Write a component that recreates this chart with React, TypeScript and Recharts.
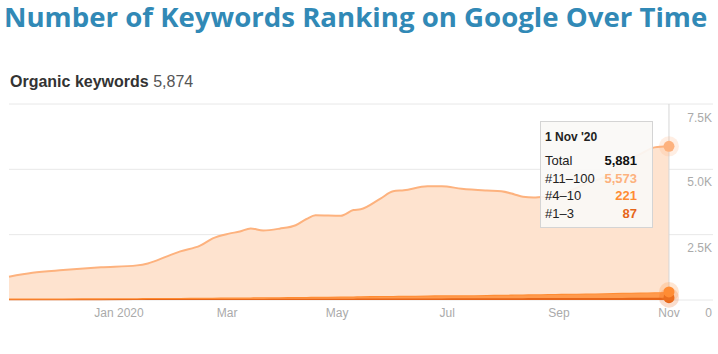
import React, {useLayoutEffect, useRef, useState} from "react";
import {AreaChart, Area, XAxis, YAxis, CartesianGrid, Tooltip, ReferenceLine} from "recharts";

const dates = [
    "2019-11-01", "2019-11-14", "2019-12-01", "2019-12-22", "2020-01-11", "2020-01-17", "2020-01-28",
    "2020-02-04", "2020-02-15", "2020-02-22", "2020-03-02", "2020-03-08", "2020-03-14", "2020-03-21",
    "2020-03-30", "2020-04-08", "2020-04-14", "2020-04-19", "2020-05-03", "2020-05-10", "2020-05-14",
    "2020-05-25", "2020-06-01", "2020-06-07", "2020-06-20", "2020-06-28", "2020-07-09", "2020-07-23",
    "2020-07-31", "2020-08-07", "2020-08-12", "2020-08-18", "2020-08-22", "2020-08-30", "2020-09-06",
    "2020-09-16", "2020-09-26", "2020-10-06", "2020-10-16", "2020-10-24", "2020-11-01"
];
const top1to3 = [
    30, 31, 32, 33, 34, 35, 36, 37, 38, 39, 40, 41, 42, 43, 44, 45, 46, 47, 50, 52, 53,
    55, 57, 58, 60, 62, 64, 66, 68, 70, 71, 72, 73, 74, 75, 77, 79, 81, 83, 85, 87
];
const top4to10 = [
    25, 27, 30, 33, 36, 38, 40, 42, 45, 48, 52, 55, 58, 60, 63, 66, 70, 73, 80, 85, 88,
    95, 100, 103, 110, 115, 120, 128, 132, 136, 140, 145, 148, 155, 162, 172, 182, 195, 205, 213, 221
];
const top11to100 = [
    835, 982, 1083, 1184, 1255, 1327, 1604, 1781, 1997, 2273, 2448, 2524, 2640, 2557, 2623, 2749, 2984,
    3120, 3090, 3303, 3329, 3730, 4003, 4039, 4180, 4173, 4076, 3996, 3960, 3844, 3739, 3703, 3719,
    3731, 3913, 4201, 4439, 4974, 5292, 5542, 5573
];

const monthTicks = ["2020-01-01", "2020-03-01", "2020-05-01", "2020-07-01", "2020-09-01", "2020-11-01"];
const monthLabels = ["Jan 2020", "Mar", "May", "Jul", "Sep", "Nov"];
const yTicks = [0, 2500, 5000, 7500];
const yLabels = ["0", "2.5K", "5.0K", "7.5K"];

const toTime = (d: string) => new Date(d + "T00:00:00Z").getTime();

const data = dates.map((d, i) => ({
    time: toTime(d),
    "#1–3": top1to3[i],
    "#4–10": top4to10[i],
    "#11–100": top11to100[i],
}));

const last = data.length - 1;
const tickTimes = monthTicks.map(toTime);
// x axis runs a bit past the last point so the grid reaches the label column
const xDomain = [data[0].time, Date.UTC(2020, 10, 25, 10)];

const FONT = '"Liberation Sans", Arial, sans-serif';
const C_TOP = "#e6661a";
const C_MID = "#ff8c33";
const C_LOW = "#fdb27e";

const endDot = (color: string) => (props: any) => {
    if (props.index !== last) return <g key={"d" + props.index}/>;
    return (
        <g key={"d" + props.index}>
            <circle cx={props.cx} cy={props.cy} r={10} fill={color} fillOpacity={0.22}/>
            <circle cx={props.cx} cy={props.cy} r={5.5} fill={color}/>
        </g>
    );
};

const renderYTick = (props: any) => (
    <text key={"y" + props.index} x={props.x} y={props.y + 17} textAnchor="end" fill="#aaa" fontSize={12} fontFamily={FONT}>
        {yLabels[yTicks.indexOf(props.payload.value)]}
    </text>
);

const fmtDay = (t: number) => {
    const d = new Date(t);
    const m = ["Jan", "Feb", "Mar", "Apr", "May", "Jun", "Jul", "Aug", "Sep", "Oct", "Nov", "Dec"][d.getUTCMonth()];
    return `${d.getUTCDate()} ${m} '${String(d.getUTCFullYear()).slice(2)}`;
};

const TipBox = () => {
    const p = data[last];
    const total = p["#1–3"] + p["#4–10"] + p["#11–100"];
    const rows: [string, number, string][] = [
        ["Total", total, "#111"],
        ["#11–100", p["#11–100"], C_LOW],
        ["#4–10", p["#4–10"], C_MID],
        ["#1–3", p["#1–3"], C_TOP],
    ];
    return (
        <div style={{
            width: 113, height: 107, boxSizing: "border-box", border: "1px solid #d4d4d4",
            background: "rgba(250,248,246,0.92)", padding: "8px 15px 0 4px", fontFamily: FONT, color: "#222"
        }}>
            <div style={{fontWeight: 700, fontSize: 12, lineHeight: "14px", marginBottom: 8}}>{fmtDay(p.time)}</div>
            {rows.map(([name, v, c]) => (
                <div key={name} style={{display: "flex", justifyContent: "space-between", fontSize: 13, lineHeight: "17.7px"}}>
                    <span>{name}</span>
                    <span style={{fontWeight: 700, color: c}}>{v.toLocaleString("en-US")}</span>
                </div>
            ))}
        </div>
    );
};

// title font size is fitted so the heading spans the page width
function Title() {
    const ref = useRef<HTMLSpanElement>(null);
    const [size, setSize] = useState(29);
    useLayoutEffect(() => {
        if (ref.current) setSize(29 * 704 / ref.current.offsetWidth);
    }, []);
    return (
        <span ref={ref} style={{
            position: "absolute", left: 4, top: 2, whiteSpace: "nowrap", fontFamily: '"Open Sans", sans-serif',
            fontWeight: 700, fontSize: size, lineHeight: "29px", color: "#3189b6"
        }}>
            Number of Keywords Ranking on Google Over Time
        </span>
    );
}

export default function App() {
    return (
        <div style={{position: "absolute", left: 0, top: 0, width: 718, height: 354, background: "#fff", fontFamily: FONT}}>
            <Title/>
            <div style={{position: "absolute", left: 10, top: 72, fontSize: 16, lineHeight: "19px", color: "#333"}}>
                <b>Organic keywords</b> <span style={{color: "#555"}}>5,874</span>
            </div>
            <div style={{position: "absolute", left: 0, top: 96}}>
                <AreaChart width={718} height={240} data={data} margin={{top: 8, right: 5, bottom: 6, left: 9}}>
                    <CartesianGrid vertical={false} stroke="#e8e8e8"/>
                    <XAxis dataKey="time" type="number" domain={xDomain} ticks={tickTimes} height={30}
                           tickFormatter={(t) => monthLabels[tickTimes.indexOf(t)]}
                           axisLine={false} tickLine={false}
                           tick={{fill: "#aaa", fontSize: 12, fontFamily: FONT}}/>
                    <YAxis orientation="right" width={1} mirror domain={[0, 7500]} ticks={yTicks}
                           axisLine={false} tickLine={false} tickSize={0} tickMargin={1} tick={renderYTick}/>
                    <Area type="monotone" dataKey="#1–3" stackId="k" stroke={C_TOP} strokeWidth={2} fill={C_TOP}
                          fillOpacity={1} dot={endDot(C_TOP)} activeDot={false} isAnimationActive={false}/>
                    <Area type="monotone" dataKey="#4–10" stackId="k" stroke={C_MID} strokeWidth={2} fill="#ff9a4d"
                          fillOpacity={1} dot={endDot(C_MID)} activeDot={false} isAnimationActive={false}/>
                    <Area type="monotone" dataKey="#11–100" stackId="k" stroke={C_LOW} strokeWidth={2} fill="#fee3cf"
                          fillOpacity={1} dot={endDot(C_LOW)} activeDot={false} isAnimationActive={false}/>
                    <ReferenceLine x={data[last].time} stroke="#d6d6d6"/>
                    <Tooltip active defaultIndex={last} position={{x: 540, y: 25}} cursor={false}
                             content={<TipBox/>} isAnimationActive={false}/>
                </AreaChart>
            </div>
        </div>
    );
}
